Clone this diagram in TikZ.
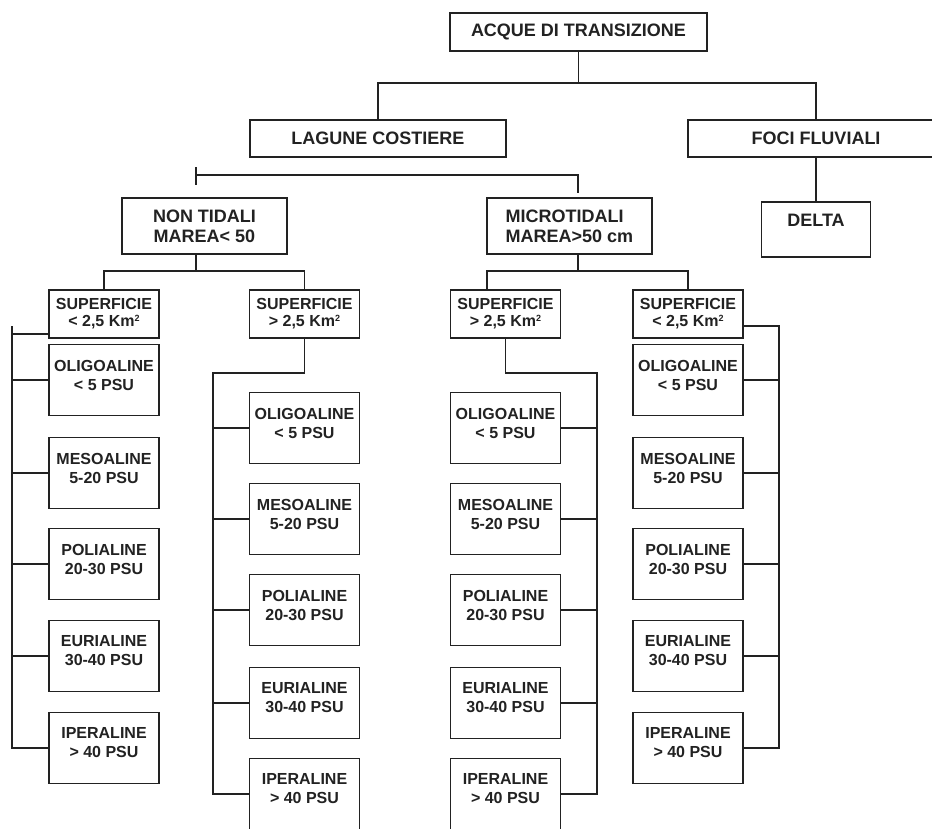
\documentclass[tikz,border=0pt]{standalone}
\usepackage{fontspec}
\setmainfont{Liberation Sans}
\usetikzlibrary{calc}
\definecolor{ink}{HTML}{222222}
\newcommand\kmsq{Km\raisebox{0.62ex}{\fontsize{9}{9}\selectfont 2}}
\begin{document}
\begin{tikzpicture}[x=1pt,y=1pt,
  ln/.style={draw=ink, line width=1.6pt},
  hbox/.style={draw=ink, line width=1.6pt, rectangle, inner sep=0pt, text=ink,
    font=\bfseries\fontsize{18}{20}\selectfont, align=center},
  sbox/.style={draw=ink, line width=1.6pt, rectangle, inner sep=0pt, text=ink,
    font=\bfseries\fontsize{16}{17}\selectfont, align=center,
    minimum width=110pt, minimum height=48pt},
  pbox/.style={draw=ink, line width=1.6pt, rectangle, inner sep=0pt,
    minimum width=110pt, minimum height=71pt},
  plab/.style={anchor=north, yshift=-16pt, inner sep=0pt, align=center, text=ink,
    font=\bfseries\fontsize{16}{19}\selectfont}
]
\clip (0,0) rectangle (932,-828);
\fill[white] (0,0) rectangle (932,-828);

% top level
\node[hbox, minimum width=257pt, minimum height=38pt] (acque) at (578.5,-32) {ACQUE DI TRANSIZIONE};
\node[hbox, minimum width=256pt, minimum height=37pt] (lagune) at (378,-138.5) {LAGUNE COSTIERE};
\node[hbox, minimum width=256pt, minimum height=37pt] (foci) at (816,-138.5) {FOCI FLUVIALI};
\node[hbox, minimum width=109pt, minimum height=55pt,
  label={[anchor=north, yshift=-13pt, inner sep=0pt, text=ink, font=\bfseries\fontsize{18}{20}\selectfont]north:DELTA}] (delta) at (816,-229.5) {};
\node[hbox, minimum width=165pt, minimum height=56pt] (nontid) at (204.5,-226) {NON TIDALI\\MAREA< 50};
\node[hbox, minimum width=165pt, minimum height=56pt, align=left] (micro) at (569.5,-226) {MICROTIDALI\\MAREA>50 cm};

\coordinate (j1) at (578.5,-83);
\draw[ln] (acque.south) -- (j1);
\draw[ln] (lagune.north) |- (j1) -| (foci.north);
\draw[ln] (foci.south) -- (delta.north);

\coordinate (tt) at (196,-167);
\coordinate (tb) at (196,-185);
\coordinate (t1) at (196,-175);
\coordinate (t2) at (578,-175);
\coordinate (t3) at (578,-193);
\draw[ln] (tt) -- (tb);
\draw[ln] (t1) -- (t2) -- (t3);

% superficie boxes
\node[sbox] (supA) at (104,-314) {SUPERFICIE\\< 2,5 \kmsq};
\node[sbox] (supB) at (304.5,-314) {SUPERFICIE\\> 2,5 \kmsq};
\node[sbox] (supC) at (505.5,-314) {SUPERFICIE\\> 2,5 \kmsq};
\node[sbox] (supD) at (688,-314) {SUPERFICIE\\< 2,5 \kmsq};

\coordinate (n1) at (196,-271);
\draw[ln] (nontid.south -| n1) -- (n1);
\draw[ln] (supA.north) |- (n1) -| (supB.north);
\coordinate (m1) at (578,-271);
\coordinate (m0) at (487,-271);
\draw[ln] (micro.south -| m1) -- (m1);
\draw[ln] (supC.north -| m0) -- (m0) -- (m0 -| supD.north) -- (supD.north);

% salinity boxes
\newcommand\salbox[4]{\node[pbox, label={[plab]north:{#3\\#4}}] (#1) at (#2) {};}
\foreach \c/\x/\ys in {A/104/0, D/688/0, B/304.5/1, C/505.5/1}{
  \ifnum\ys=0
    \salbox{\c1}{\x,-380}{OLIGOALINE}{< 5 PSU}
    \salbox{\c2}{\x,-473}{MESOALINE}{5-20 PSU}
    \salbox{\c3}{\x,-564}{POLIALINE}{20-30 PSU}
    \salbox{\c4}{\x,-656}{EURIALINE}{30-40 PSU}
    \salbox{\c5}{\x,-748}{IPERALINE}{> 40 PSU}
  \else
    \salbox{\c1}{\x,-428}{OLIGOALINE}{< 5 PSU}
    \salbox{\c2}{\x,-519}{MESOALINE}{5-20 PSU}
    \salbox{\c3}{\x,-610}{POLIALINE}{20-30 PSU}
    \salbox{\c4}{\x,-703}{EURIALINE}{30-40 PSU}
    \salbox{\c5}{\x,-794}{IPERALINE}{> 40 PSU}
  \fi
}

% column A bracket (left)
\coordinate (ax) at (12,-326);
\coordinate (a0) at ([yshift=5pt]supA.south west);
\draw[ln] (a0) -- (a0 -| ax);
\draw[ln] (ax) -- (ax |- A5.west) -- (A5.west);
\foreach \i in {1,2,3,4}{\draw[ln] (A\i.west) -- (A\i.west -| ax);}

% column B bracket (left)
\coordinate (bx) at (213,-373);
\draw[ln] (supB.south) |- (bx) -- (bx |- B5.west) -- (B5.west);
\foreach \i in {1,2,3,4}{\draw[ln] (B\i.west) -- (B\i.west -| bx);}

% column C bracket (right)
\coordinate (cx) at (597,-373);
\draw[ln] (supC.south) |- (cx) -- (cx |- C5.east) -- (C5.east);
\foreach \i in {1,2,3,4}{\draw[ln] (C\i.east) -- (C\i.east -| cx);}

% column D bracket (right)
\coordinate (dx) at (779,-326);
\draw[ln] (supD.east |- dx) -- (dx) -- (dx |- D5.east) -- (D5.east);
\foreach \i in {1,2,3,4}{\draw[ln] (D\i.east) -- (D\i.east -| dx);}
\end{tikzpicture}
\end{document}
